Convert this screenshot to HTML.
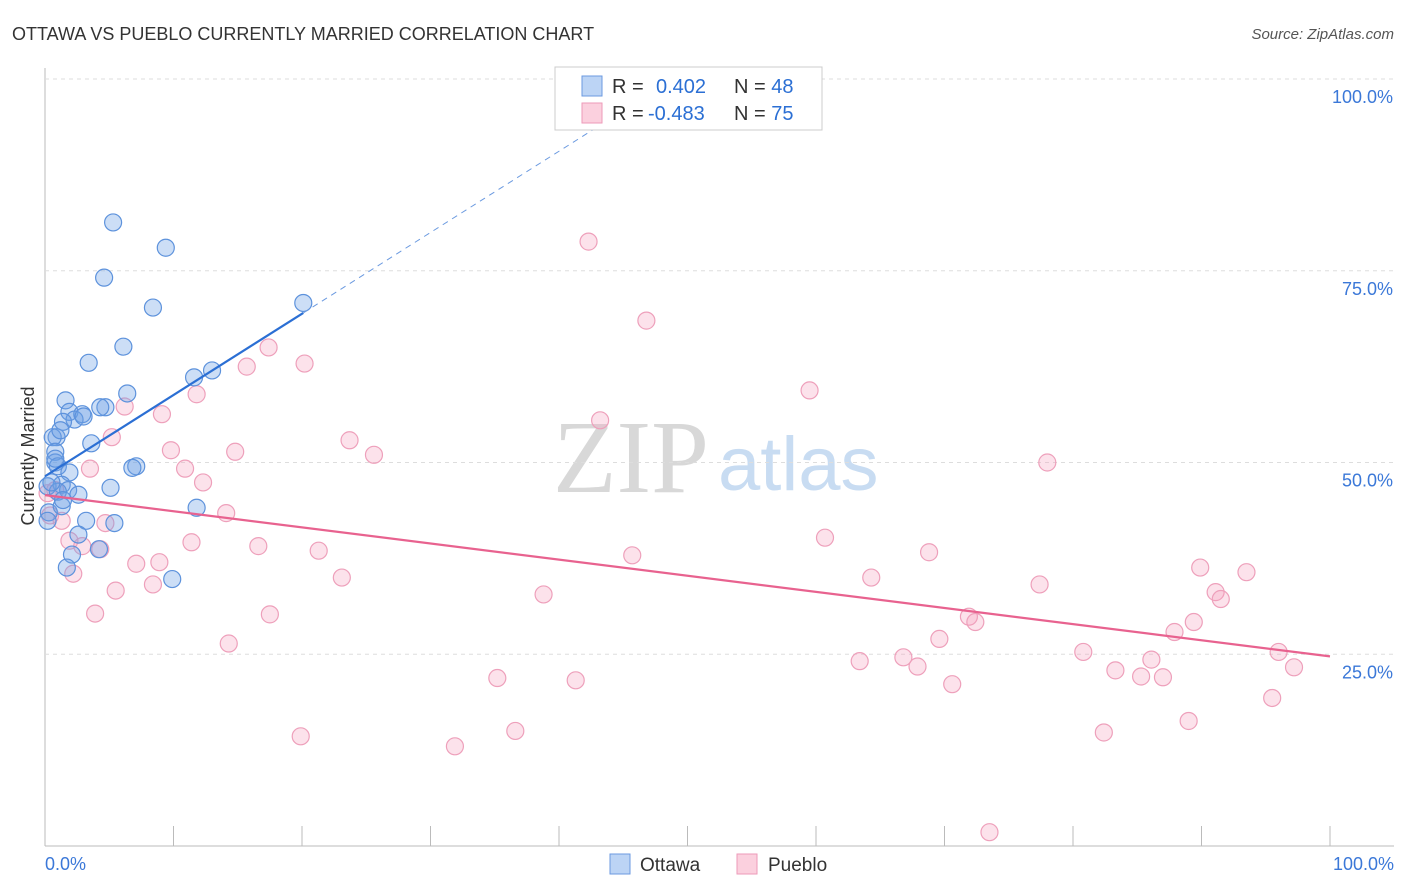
<!DOCTYPE html>
<html><head><meta charset="utf-8"><style>
body{margin:0;background:#fff;font-family:"Liberation Sans",sans-serif;}
svg{display:block}
</style></head><body>
<svg id="chart" width="1406" height="892">
<text x="12" y="40" font-size="18" fill="#333">OTTAWA VS PUEBLO CURRENTLY MARRIED CORRELATION CHART</text>
<text x="1394" y="39" font-size="15" fill="#555" font-style="italic" text-anchor="end">Source: ZipAtlas.com</text>
<text x="34" y="456" font-size="18" fill="#333" text-anchor="middle" transform="rotate(-90 34 456)">Currently Married</text>
<text x="553" y="492" font-size="104" fill="#d8d8d8" font-family="Liberation Serif,serif">ZIP</text>
<text x="718" y="490" font-size="76" fill="#c8dcf2">atlas</text>
<g id="grid"></g><g id="pts"></g><g id="lines"></g>
<g>
<rect x="555" y="67" width="267" height="63" fill="#fff" stroke="#ccc"/>
<rect x="582" y="76" width="20" height="20" fill="#bcd4f5" stroke="#6b9ae0"/>
<rect x="582" y="103" width="20" height="20" fill="#fbd0de" stroke="#ee9ab8"/>
<text x="612" y="93" font-size="20" fill="#333">R = <tspan fill="#2b6fd4" x="656">0.402</tspan><tspan x="734">N = </tspan><tspan fill="#2b6fd4">48</tspan></text>
<text x="612" y="120" font-size="20" fill="#333">R = <tspan fill="#2b6fd4" x="648">-0.483</tspan><tspan x="734">N = </tspan><tspan fill="#2b6fd4">75</tspan></text>
</g>
<g>
<rect x="610" y="854" width="20" height="20" fill="#bcd4f5" stroke="#6b9ae0"/>
<text x="640" y="871" font-size="19" fill="#333">Ottawa</text>
<rect x="737" y="854" width="20" height="20" fill="#fbd0de" stroke="#ee9ab8"/>
<text x="768" y="871" font-size="19" fill="#333">Pueblo</text>
</g>
</svg>
<script>
const blueX=[5.3,9.4,4.6,8.4,20.1,6.1,3.4,13.0,11.6,6.4,1.6,4.7,1.9,2.9,2.3,1.4,3.0,0.9,0.6,3.6,0.8,0.8,1.0,7.1,1.9,6.8,5.1,1.3,1.8,2.6,0.2,1.0,0.3,1.3,11.8,5.4,3.2,2.6,2.1,4.2,1.7,9.9,0.2,0.5,0.8,1.2,4.3,1.4];
const blueY=[81.3,78.0,74.1,70.2,70.8,65.1,63.0,62.0,61.1,59.0,58.1,57.2,56.6,56.3,55.6,55.3,56.0,53.3,53.3,52.5,51.4,50.0,49.5,49.5,48.7,49.3,46.7,47.1,46.4,45.8,46.9,46.2,43.5,44.3,44.1,42.1,42.4,40.6,38.0,38.7,36.3,34.8,42.4,47.4,50.5,54.2,57.2,45.1];
const pinkX=[42.3,46.8,17.4,20.2,15.7,59.5,6.2,9.1,11.8,43.2,5.2,23.7,9.8,14.8,25.6,10.9,3.5,78.0,12.3,0.8,14.1,1.3,60.7,11.4,16.6,21.3,1.9,2.9,4.7,4.3,45.7,68.8,7.1,8.9,64.3,23.1,77.4,89.9,93.5,5.5,8.4,38.8,91.1,91.5,3.9,17.5,71.9,72.4,89.4,87.9,69.6,14.3,80.8,63.4,66.8,67.9,86.1,96.0,35.2,41.3,70.6,83.3,85.3,87.0,97.2,95.5,89.0,19.9,36.6,31.9,82.4,73.5,2.2,0.2,0.4];
const pinkY=[78.8,68.5,65.0,62.9,62.5,59.4,57.3,56.3,58.9,55.5,53.3,52.9,51.6,51.4,51.0,49.2,49.2,50.0,47.4,46.4,43.4,42.4,40.2,39.6,39.1,38.5,39.8,39.1,42.1,38.7,37.9,38.3,36.8,37.0,35.0,35.0,34.1,36.3,35.7,33.3,34.1,32.8,33.1,32.2,30.3,30.2,29.9,29.2,29.2,27.9,27.0,26.4,25.3,24.1,24.6,23.4,24.3,25.3,21.9,21.6,21.1,22.9,22.1,22.0,23.3,19.3,16.3,14.3,15.0,13.0,14.8,1.8,35.5,46.0,43.1];
const yTicks=[25,50,75,100];
const NS="http://www.w3.org/2000/svg";
const X0=45,X1=1330,Y0=846,Y100=79;
const sx=v=>X0+(X1-X0)*v/100, sy=v=>Y0-(Y0-Y100)*v/100;
function mk(t,a,p){const e=document.createElementNS(NS,t);for(const k in a)e.setAttribute(k,a[k]);p.appendChild(e);return e;}
const grid=document.getElementById('grid');
mk('line',{x1:X0,y1:68,x2:X0,y2:846,stroke:'#bbb'},grid);
mk('line',{x1:X0,y1:846,x2:1394,y2:846,stroke:'#bbb'},grid);
for(let i=0;i<=10;i++){const x=sx(i*10);mk('line',{x1:x,y1:826,x2:x,y2:846,stroke:'#bbb'},grid);}
for(const t of yTicks){const y=sy(t);
const g=mk('line',{x1:X0,y1:y,x2:1394,y2:y,stroke:'#ddd','stroke-dasharray':'4,4'},grid);


const tx=mk('text',{x:1393,y:y+24,'font-size':18,fill:'#3b78d8','text-anchor':'end'},grid);tx.textContent=t.toFixed(1)+'%';

}
const l0=mk('text',{x:45,y:870,'font-size':18,fill:'#3b78d8'},grid);l0.textContent='0.0%';


const l1=mk('text',{x:1394,y:870,'font-size':18,fill:'#3b78d8','text-anchor':'end'},grid);l1.textContent='100.0%';


const pts=document.getElementById('pts');
function draw(xs,ys,fill,stroke,name){for(let i=0;i<xs.length;i++){const c=mk('circle',{cx:sx(xs[i]),cy:sy(ys[i]),r:8.5,fill:fill,stroke:stroke,'stroke-width':1.2},pts);

}}
draw(pinkX,pinkY,'rgba(245,160,190,0.3)','#eea0bb','pueblo-point');
draw(blueX,blueY,'rgba(110,160,230,0.35)','#5d92dc','ottawa-point');
function reg(xs,ys){const n=xs.length;let mx=0,my=0;for(let i=0;i<n;i++){mx+=xs[i];my+=ys[i];}mx/=n;my/=n;let sxy=0,sxx=0;for(let i=0;i<n;i++){sxy+=(xs[i]-mx)*(ys[i]-my);sxx+=(xs[i]-mx)**2;}const b=sxy/sxx;return [my-b*mx,b];}
const lines=document.getElementById('lines');
const [ba,bb]=reg(blueX,blueY);const bmax=Math.max(...blueX);
const b1=mk('line',{x1:sx(0),y1:sy(ba),x2:sx(bmax),y2:sy(ba+bb*bmax),stroke:'#2b6fd4','stroke-width':2.2},lines);


const xe=bb>0?Math.min(100,(100-ba)/bb):100;
const b2=mk('line',{x1:sx(bmax),y1:sy(ba+bb*bmax),x2:sx(xe),y2:sy(ba+bb*xe),stroke:'#6b9ae0','stroke-width':1,'stroke-dasharray':'6,5'},lines);


const [pa,pb]=reg(pinkX,pinkY);
const p1=mk('line',{x1:sx(0),y1:sy(pa),x2:sx(100),y2:sy(pa+pb*100),stroke:'#e8628f','stroke-width':2.2},lines);


</script>
</body></html>
